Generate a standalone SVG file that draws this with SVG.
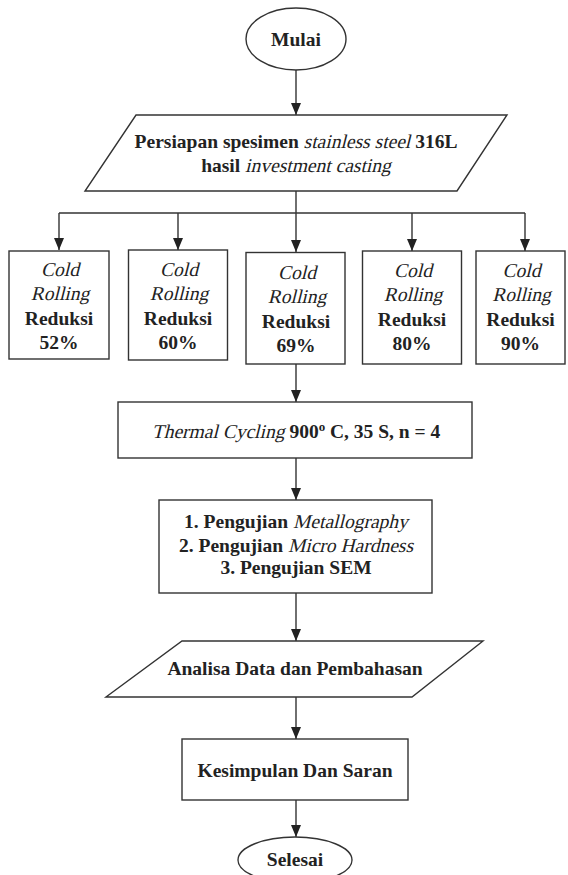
<svg xmlns="http://www.w3.org/2000/svg" width="568" height="875" viewBox="0 0 568 875">
<defs>
<marker id="arr" markerUnits="userSpaceOnUse" markerWidth="12" markerHeight="12" viewBox="0 0 12 12" refX="12" refY="6" orient="auto">
<path d="M0,1 L12,6 L0,11 z" fill="#222"/>
</marker>
<style>
.s{fill:#fff;stroke:#333;stroke-width:1.4}
.c{fill:none;stroke:#333;stroke-width:1.4}
.t{font-family:"Liberation Serif","Times New Roman",serif;font-size:19.5px;font-weight:bold;fill:#222;text-anchor:middle}
.l{text-anchor:start}
.i{font-weight:normal}
</style>
</defs>
<rect width="568" height="875" fill="#fff"/>
<g id="connectors">
<path class="c" d="M296,70 V115" marker-end="url(#arr)"/>
<path class="c" d="M296,191 V213"/>
<path class="c" d="M59,213 H525"/>
<path class="c" d="M59,213 V250" marker-end="url(#arr)"/>
<path class="c" d="M178,213 V250" marker-end="url(#arr)"/>
<path class="c" d="M296,213 V252" marker-end="url(#arr)"/>
<path class="c" d="M412,213 V251" marker-end="url(#arr)"/>
<path class="c" d="M525,213 V251" marker-end="url(#arr)"/>
<path class="c" d="M296,364 V402" marker-end="url(#arr)"/>
<path class="c" d="M296,458 V500" marker-end="url(#arr)"/>
<path class="c" d="M296,593 V641" marker-end="url(#arr)"/>
<path class="c" d="M296,697 V739" marker-end="url(#arr)"/>
<path class="c" d="M296,800 V837" marker-end="url(#arr)"/>
</g>
<g id="mulai">
<ellipse class="s" cx="296" cy="39" rx="50" ry="31"/>
<text class="t" x="296" y="46">Mulai</text>
</g>
<g id="persiapan">
<polygon class="s" points="136,115 507,115 457,191 85,191"/>
<text class="t l" x="134.6" y="148">Persiapan spesimen</text>
<text class="t l i" transform="translate(303.6,148) skewX(-14)">stainless steel</text>
<text class="t l" x="415.2" y="148">316L</text>
<text class="t l" x="201.2" y="172">hasil</text>
<text class="t l i" transform="translate(245.1,172) skewX(-14)">investment casting</text>
</g>
<g id="cr52">
<rect class="s" x="9" y="251" width="100" height="108"/>
<text class="t i" transform="translate(60,276) skewX(-14)">Cold</text>
<text class="t i" transform="translate(60,300) skewX(-14)">Rolling</text>
<text class="t" x="59" y="325">Reduksi</text>
<text class="t" x="59" y="349">52%</text>
</g>
<g id="cr60">
<rect class="s" x="128.5" y="250" width="99" height="110"/>
<text class="t i" transform="translate(179,276) skewX(-14)">Cold</text>
<text class="t i" transform="translate(179,300) skewX(-14)">Rolling</text>
<text class="t" x="178" y="325">Reduksi</text>
<text class="t" x="178" y="349">60%</text>
</g>
<g id="cr69">
<rect class="s" x="246" y="252.5" width="99" height="111.5"/>
<text class="t i" transform="translate(297,279) skewX(-14)">Cold</text>
<text class="t i" transform="translate(297,303) skewX(-14)">Rolling</text>
<text class="t" x="296" y="328">Reduksi</text>
<text class="t" x="296" y="352">69%</text>
</g>
<g id="cr80">
<rect class="s" x="362.5" y="251" width="99" height="113"/>
<text class="t i" transform="translate(413,277) skewX(-14)">Cold</text>
<text class="t i" transform="translate(413,301) skewX(-14)">Rolling</text>
<text class="t" x="412" y="326">Reduksi</text>
<text class="t" x="412" y="350">80%</text>
</g>
<g id="cr90">
<rect class="s" x="476" y="251" width="89" height="113"/>
<text class="t i" transform="translate(521.5,277) skewX(-14)">Cold</text>
<text class="t i" transform="translate(521.5,301) skewX(-14)">Rolling</text>
<text class="t" x="520.5" y="326">Reduksi</text>
<text class="t" x="520.5" y="350">90%</text>
</g>
<g id="thermal">
<rect class="s" x="118" y="402" width="354" height="56"/>
<text class="t l i" transform="translate(151.8,438) skewX(-14)">Thermal Cycling</text>
<text class="t l" x="289.4" y="438">900<tspan font-size="13" dy="-7">o</tspan><tspan dy="7"> C, 35 S, n = 4</tspan></text>
</g>
<g id="pengujian">
<rect class="s" x="159" y="500" width="273" height="93"/>
<text class="t l" x="184.1" y="528">1. Pengujian</text>
<text class="t l i" transform="translate(293,528) skewX(-14)">Metallography</text>
<text class="t l" x="179" y="552">2. Pengujian</text>
<text class="t l i" transform="translate(287.9,552) skewX(-14)">Micro Hardness</text>
<text class="t" x="296" y="574">3. Pengujian SEM</text>
</g>
<g id="analisa">
<polygon class="s" points="182,641 483,641 412,697 106,697"/>
<text class="t" x="295" y="675">Analisa Data dan Pembahasan</text>
</g>
<g id="kesimpulan">
<rect class="s" x="182" y="739" width="226" height="61"/>
<text class="t" x="295" y="777">Kesimpulan Dan Saran</text>
</g>
<g id="selesai">
<ellipse class="s" cx="295" cy="860" rx="57" ry="23"/>
<text class="t" x="295" y="866">Selesai</text>
</g>
</svg>
